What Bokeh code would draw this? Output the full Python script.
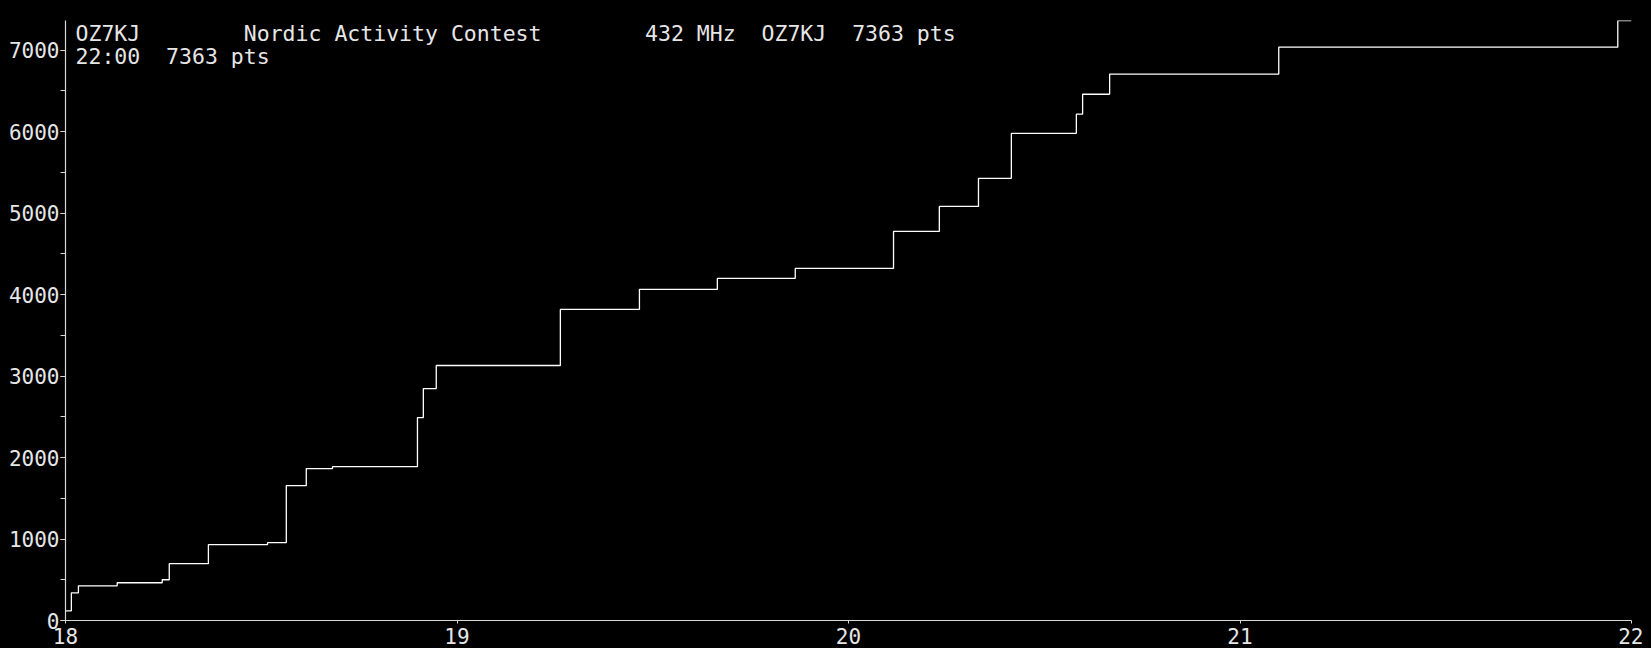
from bokeh.plotting import figure
from bokeh.models import Range1d, SingleIntervalTicker, Label, ColumnDataSource
from bokeh.embed import file_html
from bokeh.resources import INLINE

# Cumulative score (points) versus time (hours UTC)
times = [18.0, 18.015, 18.033, 18.132, 18.247, 18.265, 18.365, 18.516, 18.564,
         18.615, 18.682, 18.899, 18.914, 18.947, 19.264, 19.466, 19.665, 19.864,
         20.115, 20.232, 20.332, 20.416, 20.582, 20.598, 20.667, 21.099, 21.965, 22.0]
points = [119, 340, 426, 463, 500, 697, 930, 955, 1655,
          1864, 1888, 2490, 2846, 3129, 3817, 4063, 4198, 4321,
          4775, 5082, 5426, 5979, 6213, 6458, 6704, 7036, 7363, 7363]

title_line = "OZ7KJ        Nordic Activity Contest        432 MHz  OZ7KJ  7363 pts"
time_info = "22:00  7363 pts"

x_start, x_end = 18, 22
y_max = 7363

FONT = "DejaVu Sans Mono"
TXT = "#e6e6e6"
AX = "#d8d8d8"

p = figure(width=1643, height=648, output_backend="svg", toolbar_location=None,
           x_range=Range1d(x_start, x_end), y_range=Range1d(0, y_max),
           min_border_left=65, min_border_right=12, min_border_top=20,
           min_border_bottom=28)
p.background_fill_color = "black"
p.border_fill_color = "black"
p.outline_line_color = None
p.xgrid.visible = False
p.ygrid.visible = False

src = ColumnDataSource(dict(t=times, s=points))
p.step("t", "s", source=src, mode="after", line_color="white", line_width=1.3)

p.xaxis.ticker = SingleIntervalTicker(interval=1, num_minor_ticks=0)
p.yaxis.ticker = SingleIntervalTicker(interval=1000, num_minor_ticks=2)

for ax in (p.xaxis[0], p.yaxis[0]):
    ax.axis_line_color = AX
    ax.major_tick_line_color = AX
    ax.minor_tick_line_color = AX
    ax.major_tick_in = 0
    ax.minor_tick_in = 0
    ax.major_label_text_font = FONT
    ax.major_label_text_font_size = "21px"
    ax.major_label_text_color = TXT
    ax.axis_line_width = 1.2

p.xaxis.major_tick_out = 3
p.xaxis.major_label_standoff = 4
p.yaxis.major_tick_out = 5
p.yaxis.minor_tick_out = 5
p.yaxis.major_label_standoff = 1

def add_label(txt, sx, sy, size="21.5px"):
    p.add_layout(Label(x=sx, y=sy, x_units="screen", y_units="screen",
                       text=txt.replace(" ", "\u00a0"),
                       text_font=FONT, text_font_size=size, text_color=TXT,
                       text_baseline="alphabetic", text_align="left"))

add_label(title_line, 10, 587)
add_label(time_info, 10, 564)

html = file_html(p, INLINE)
html = html.replace("<head>", "<head><style>html,body{background:#000;}</style>", 1)
open("out.html", "w").write(html)
